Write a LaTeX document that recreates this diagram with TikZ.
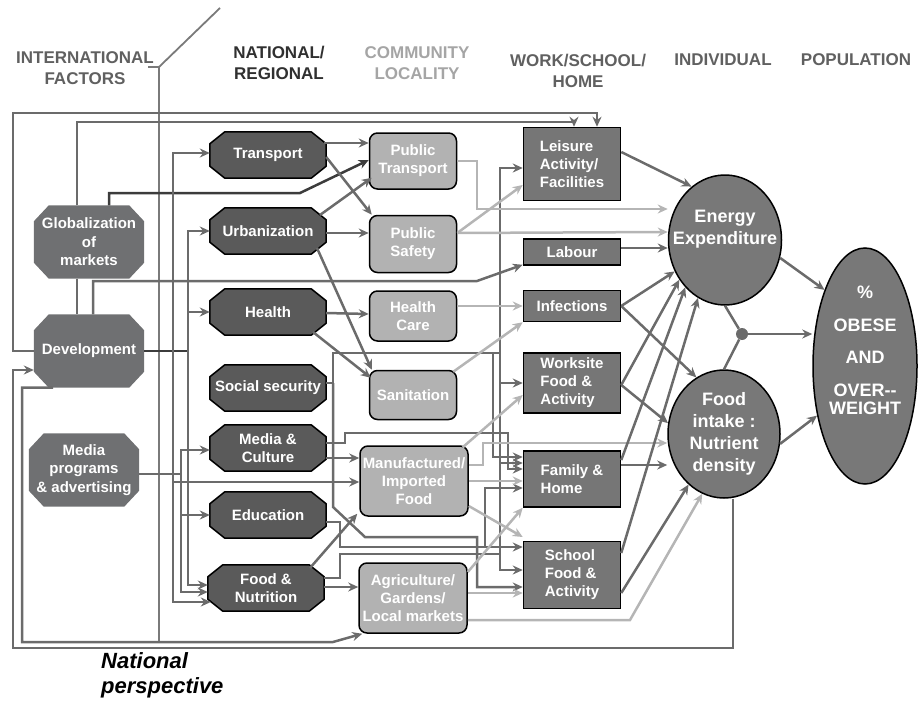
\documentclass[tikz,border=0pt]{standalone}
\usepackage{fontspec}
\setmainfont{Liberation Sans}
\usetikzlibrary{shapes.geometric,arrows.meta,calc}
\pgfdeclarelayer{background}
\pgfsetlayers{background,main}
\definecolor{natgray}{HTML}{5A5A5A}
\definecolor{intlgray}{HTML}{6F7072}
\definecolor{commgray}{HTML}{B2B2B2}
\definecolor{workgray}{HTML}{767676}
\definecolor{indgray}{HTML}{787878}
\definecolor{dkline}{HTML}{6B6B6B}
\definecolor{dkkline}{HTML}{3C3C3C}
\definecolor{ltline}{HTML}{B5B5B5}
\definecolor{frameg}{HTML}{7A7A7A}
\definecolor{hdmid}{HTML}{606060}
\definecolor{hddark}{HTML}{303030}
\definecolor{hdlight}{HTML}{A5A5A5}

\begin{document}
\begin{tikzpicture}[
    x=1pt, y=-1pt,
    every node/.style={text=white, align=center, inner sep=2pt},
    head/.style={font=\fontsize{17}{21}\selectfont\bfseries},
    intl/.style={rectangle, minimum width=110pt, minimum height=73pt, inner sep=1pt,
        font=\fontsize{15}{18.5}\selectfont\bfseries},
    natl/.style={rectangle, minimum width=116pt, minimum height=46pt, inner sep=1pt,
        font=\fontsize{15}{18.5}\selectfont\bfseries},
    comm/.style={rectangle, rounded corners=8pt, draw=black, line width=1.5pt, fill=commgray,
        minimum width=87pt, font=\fontsize{15}{18}\selectfont\bfseries},
    work/.style={rectangle, draw=black, line width=1.5pt, fill=workgray,
        minimum width=97pt, align=left, font=\fontsize{15}{18}\selectfont\bfseries},
    indiv/.style={ellipse, draw=black, line width=1.5pt, fill=indgray},
    indtext/.style={font=\fontsize{18}{22}\selectfont\bfseries},
    dk/.style={draw=dkline, line width=2.5pt},
    dkk/.style={draw=dkkline, line width=2.5pt},
    lt/.style={draw=ltline, line width=2.5pt},
    arr/.style={-{Stealth[length=10pt,width=9pt]}},
    frameline/.style={draw=frameg, line width=1.8pt},
  ]
  \useasboundingbox (0,0) rectangle (918,701);

  \node[head, text=hdmid] (hintl) at (85,68) {INTERNATIONAL\\FACTORS};
  \node[head, text=hddark] (hnat) at (279,63) {NATIONAL/\\REGIONAL};
  \node[head, text=hdlight] (hcomm) at (417,63) {COMMUNITY\\LOCALITY};
  \node[head, text=hdmid] (hwork) at (578,71) {WORK/SCHOOL/\\HOME};
  \node[head, text=hdmid] (hind) at (723,60) {INDIVIDUAL};
  \node[head, text=hdmid] (hpop) at (856,60) {POPULATION};

  \coordinate (natp) at (159,67);
  \draw[frameline] (148,67) -- (natp) -- (220,8);
  \draw[frameline] (natp) -- (159,642);
  \node[font=\fontsize{22}{25}\selectfont\bfseries\itshape, text=black, align=left, anchor=north west]
    (natpersp) at (99,650) {National\\perspective};

  \node[intl] (glob) at (89,242) {Globalization\\of\\markets};
  \node[intl] (dev) at (89,351) {Development};
  \node[intl] (media) at (84,470) {Media\\programs\\\& advertising};

  \node[natl] (trans) at (268,155) {Transport};
  \node[natl] (urban) at (268,231) {Urbanization};
  \node[natl] (health) at (268,312) {Health};
  \node[natl] (social) at (268,388) {Social security};
  \node[natl] (mediac) at (268,448) {Media \&\\Culture};
  \node[natl] (edu) at (268,515) {Education};
  \node[natl] (foodn) at (266,588) {Food \&\\Nutrition};

  \begin{pgfonlayer}{background}
    \foreach \n in {glob,dev,media}
      \fill[intlgray] ([xshift=15pt]\n.north west) -- ([xshift=-15pt]\n.north east)
        -- ([yshift=-16pt]\n.north east) -- ([yshift=16pt]\n.south east)
        -- ([xshift=-15pt]\n.south east) -- ([xshift=15pt]\n.south west)
        -- ([yshift=16pt]\n.south west) -- ([yshift=-16pt]\n.north west) -- cycle;
    \foreach \n in {trans,urban,health,social,mediac,edu,foodn}
      \filldraw[fill=natgray, draw=black, line width=1.5pt]
        ([xshift=15pt]\n.north west) -- ([xshift=-15pt]\n.north east)
        -- ([yshift=-12pt]\n.north east) -- ([yshift=12pt]\n.south east)
        -- ([xshift=-15pt]\n.south east) -- ([xshift=15pt]\n.south west)
        -- ([yshift=12pt]\n.south west) -- ([yshift=-12pt]\n.north west) -- cycle;
  \end{pgfonlayer}

  \node[comm, minimum height=56pt] (ptrans) at (413,161) {Public\\Transport};
  \node[comm, minimum height=57pt] (psafe) at (413,244) {Public\\Safety};
  \node[comm, minimum height=50pt] (hcare) at (413,316) {Health\\Care};
  \node[comm, minimum height=49pt] (sanit) at (413,395) {Sanitation};
  \node[comm, minimum width=108pt, minimum height=70pt] (manuf) at (414,481) {Manufactured/\\Imported\\Food};
  \node[comm, minimum width=108pt, minimum height=70pt] (agri) at (413,598) {Agriculture/\\Gardens/\\Local markets};

  \node[work, minimum height=73pt] (leis) at (572,164) {Leisure\\Activity/\\Facilities};
  \node[work, minimum height=26pt, align=center] (labour) at (572,252) {Labour};
  \node[work, minimum height=31pt, align=center] (infect) at (572,306) {Infections};
  \node[work, minimum height=60pt] (works) at (572,383) {Worksite\\Food \&\\Activity};
  \node[work, minimum height=56pt] (family) at (572,479) {Family \&\\Home};
  \node[work, minimum height=67pt] (school) at (572,575) {School\\Food \&\\Activity};

  \node[indiv, minimum width=113pt, minimum height=130pt] (energy) at (725,240) {};
  \node[indtext] (energytxt) at (725,229) {Energy\\Expenditure};
  \node[indiv, minimum width=112pt, minimum height=128pt] (foodi) at (724,434) {};
  \node[indtext] (foodtxt) at (724,434) {Food\\intake :\\Nutrient\\density};
  \node[indiv, minimum width=104pt, minimum height=236pt] (obese) at (865,366) {};
  \node[indtext] (obesetxt) at (865,350) {\%\\[11pt]OBESE\\[10pt]AND\\[11pt]OVER-{}-\\[-4pt]WEIGHT};
  \node[circle, fill=dkline, minimum size=12pt, inner sep=0pt] (dot) at (742,334) {};

  \draw[dk,arr] (dev.west) -| (13,113) -| ([xshift=25pt]leis.north);
  \draw[dk,arr] ([xshift=-12pt]glob.north) |- (200,122) -| ([xshift=2pt]leis.north);
  \draw[dk] ([xshift=-12pt]glob.south) -- ([xshift=-12pt]dev.north);
  \draw[dkk,arr] ([xshift=20pt]glob.north) |- (300,193) -- ([yshift=1pt]ptrans.west);
  \draw[dk,arr] ([xshift=4pt]dev.north) |- (477,281) -- ([yshift=1pt]labour.south west);
  \draw[dkk] (dev.east) -- (188,351);
  \draw[dk,arr] (188,351) |- (urban.west);
  \draw[dk,arr] (188,351) |- (health.west);
  \draw[dk,arr] (188,351) |- ([yshift=3pt]foodn.west);
  \draw[dk,arr] (173,351) |- ([yshift=2pt]trans.west);
  \draw[dk,arr] (173,351) |- ([xshift=3pt,yshift=-14pt]foodn.west);
  \draw[dk,arr] (173,482) -- ([yshift=-1pt]manuf.west);
  \draw[dk] ([yshift=-4pt]media.east) -- (181,474);
  \draw[dk,arr] (181,474) |- ([yshift=-2pt]mediac.west);
  \draw[dk,arr] (181,474) |- (edu.west);
  \draw[dk,arr] (181,474) |- ([yshift=-4pt]foodn.west);

  \draw[dk,arr] ([xshift=-2pt,yshift=12pt]trans.east) -- ([yshift=18pt]ptrans.west);
  \draw[dk,arr] ([yshift=-2pt]trans.east) -- ([xshift=3pt]psafe.north west);
  \draw[dk,arr] ([xshift=52pt,yshift=16pt]urban.center) -- ([xshift=3pt,yshift=12pt]ptrans.south west);
  \draw[dk,arr] ([yshift=-2pt]urban.east) -- ([yshift=11pt]psafe.west);
  \draw[dk,arr] ([xshift=49pt,yshift=-17pt]urban.center) -- ([xshift=3pt]sanit.north west);
  \draw[dk,arr] ([yshift=-1pt]health.east) -- ([yshift=2pt]hcare.west);
  \draw[dk,arr] ([xshift=45pt,yshift=-20pt]health.center) -- ([xshift=2pt,yshift=-8pt]sanit.north west);
  \draw[dk] ([yshift=5pt]social.east) -- (333,383) -- (333,353) -- (500,353);
  \draw[dk,arr] ([yshift=5pt]mediac.east) -- (345,443) -- (345,433) -| (508,469) -- ([yshift=10pt]family.west);
  \draw[dk,arr] ([yshift=-10pt]mediac.east) -- ([yshift=23pt]manuf.west);
  \draw[dk,arr] ([yshift=-7pt]edu.east) -| (340,547) -- ([yshift=28pt]school.west);
  \draw[dk,arr] (485,547) |- ([yshift=-9pt]family.west);
  \draw[dk,arr] ([xshift=44pt,yshift=20pt]foodn.center) -- ([xshift=-2pt,yshift=3pt]manuf.south west);
  \draw[dk,arr] ([yshift=1pt]foodn.east) -- ([yshift=11pt]agri.west);
  \draw[dk] ([yshift=10pt]foodn.east) -| (340,554) -- (500,554);

  \draw[dk,arr] (500,353) |- ([yshift=-4pt]leis.west);
  \draw[dk,arr] (500,353) |- (works.west);
  \draw[dk,arr] (500,353) |- ([yshift=16pt]family.west);
  \draw[dk,arr] (500,353) |- ([yshift=5pt]school.west);
  \draw[dk,arr] (493,353) |- ([yshift=22pt]family.west);
  \draw[dk,arr] (333,383) -- (333,507) -- (365,537) -| (477,587) -- ([yshift=-12pt]school.west);

  \draw[lt,arr] (ptrans.east) -| (477,209) -- ([yshift=31pt]energy.west);
  \draw[lt,arr] ([yshift=11pt]psafe.east) -- ([yshift=8pt]energy.west);
  \draw[lt,arr] ([yshift=11pt]psafe.east) -- ([yshift=-21pt]leis.west);
  \draw[lt,arr] ([yshift=10pt]hcare.east) -- (infect.west);
  \draw[lt,arr] ([xshift=-4pt,yshift=-2pt]sanit.north east) -- (infect.south west);
  \draw[lt,arr] ([xshift=-6pt,yshift=-2pt]manuf.north east) -- ([yshift=-12pt]works.west);
  \draw[lt,arr] ([yshift=16pt]manuf.east) -| (483,443) -- ([yshift=-9pt]foodi.west);
  \draw[lt,arr] (manuf.east) -- ([yshift=-2pt]family.west);
  \draw[lt,arr] ([yshift=-25pt]manuf.east) -- ([yshift=38pt]school.west);
  \draw[lt,arr] ([yshift=26pt]agri.east) -- (family.south west);
  \draw[lt,arr] ([yshift=5pt]agri.east) -- ([yshift=-18pt]school.west);
  \draw[lt,arr] ([yshift=-22pt]agri.east) -- (630,620) -- (foodi.-110);

  \draw[dk,arr] ([yshift=12pt]leis.east) -- (energy.122);
  \draw[dk,arr] ([yshift=4pt]labour.east) -- ([yshift=-8pt]energy.west);
  \draw[dk,arr] (infect.east) -- (energy.212);
  \draw[dk,arr] (infect.east) -- (foodi.116);
  \draw[dk,arr] ([yshift=-2pt]works.east) -- (energy.221);
  \draw[dk,arr] ([yshift=-2pt]works.east) -- (foodi.169);
  \draw[dk,arr] ([yshift=19pt]family.east) -- (energy.230);
  \draw[dk,arr] ([yshift=14pt]family.east) -- ([yshift=-31pt]foodi.west);
  \draw[dk,arr] ([yshift=22pt]school.east) -- (energy.245);
  \draw[dk,arr] ([yshift=-18pt]school.east) -- (foodi.235);

  \draw[dk] (energy.south) -- (dot);
  \draw[dk] (dot) -- (foodi.north);
  \draw[dk,arr] (dot) -- (dot -| obese.west);
  \draw[dk,arr] (energy.-18) -- (obese.118);
  \draw[dk,arr] (foodi.-10) -- (obese.226);
  \draw[dk,arr] ([xshift=9pt]foodi.south) |- (13,648) |- ([yshift=-19pt]dev.west);
  \draw[dk,arr] ([xshift=-36pt]dev.south) -| (22,642) -- (333,642) -- ([xshift=4pt]agri.south west);
\end{tikzpicture}
\end{document}
